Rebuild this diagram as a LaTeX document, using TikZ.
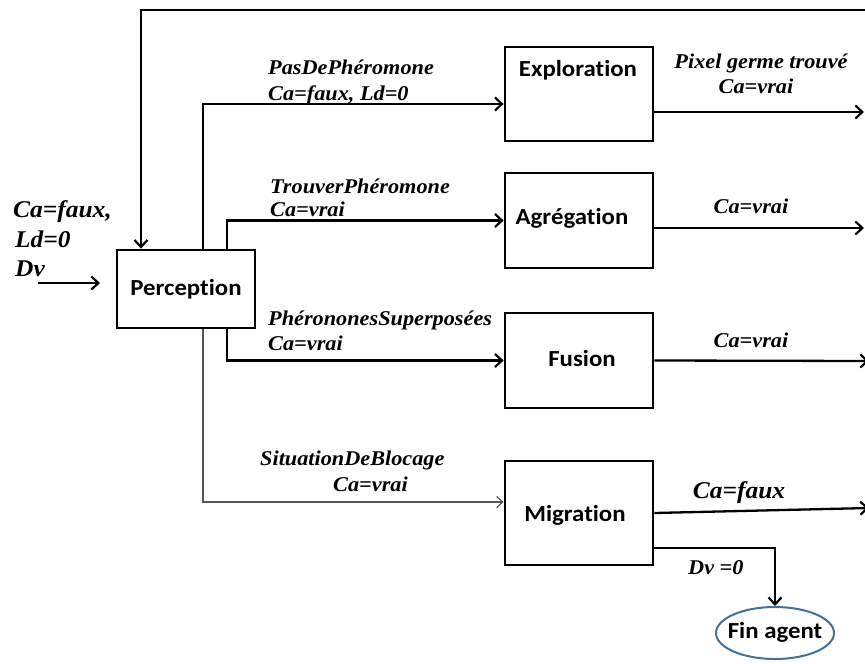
\documentclass[tikz,border=0pt]{standalone}
\usepackage{fontspec}
\usetikzlibrary{arrows.meta,shapes.geometric}
\newfontfamily\lblfont[FakeStretch=1.06]{Liberation Serif}
\newfontfamily\boxfont[FakeStretch=1.08,Ligatures={NoCommon}]{Carlito}
\definecolor{finblue}{HTML}{41719C}
\definecolor{thingrey}{HTML}{555555}
\tikzset{
  stage/.style={draw, line width=2.8pt, minimum width=148pt, inner sep=0pt},
  boxtxt/.style={font=\boxfont\bfseries\fontsize{23}{26}\selectfont, inner sep=0pt},
  lbl/.style={font=\lblfont\bfseries\itshape\fontsize{21}{24}\selectfont, inner sep=0pt, anchor=base west},
  lblbig/.style={font=\lblfont\bfseries\itshape\fontsize{24}{28}\selectfont, inner sep=0pt, anchor=base west},
  conn/.style={line width=2.3pt, -{Straight Barb[length=7pt,width=13pt,line width=2.2pt]}},
  thinconn/.style={line width=1.2pt, draw=thingrey, -{Straight Barb[length=6pt,width=11pt,line width=1.2pt]}}
}
\begin{document}
\begin{tikzpicture}[x=1pt,y=-1pt]
\useasboundingbox (0,0) rectangle (865,664);
% boxes
\node[stage, minimum width=138pt, minimum height=78pt] (perc) at (186,289) {};
\node[boxtxt] (perct) at (186,289) {Perception};
\node[stage, minimum height=94pt] (expl) at (579,94) {};
\node[boxtxt] (explt) at (578,70) {Exploration};
\node[stage, minimum height=95pt] (agr) at (579,220.5) {};
\node[boxtxt] (agrt) at (572,218) {Agrégation};
\node[stage, minimum height=95pt] (fus) at (579,360.5) {};
\node[boxtxt] (fust) at (582,359) {Fusion};
\node[stage, minimum height=104pt] (mig) at (579,513) {};
\node[boxtxt] (migt) at (575,515) {Migration};
\node[ellipse, draw=finblue, line width=2pt, minimum width=118pt, minimum height=52pt, inner sep=0pt] (fin) at (775,633) {};
\node[boxtxt] (fint) at (775,632) {Fin agent};

% free ends
\coordinate (topR) at (872,10);
\coordinate (inL) at (38,283);
\coordinate (inR) at (100,283);
\coordinate (bx1) at (203,0);
\coordinate (bx2) at (227,0);
\coordinate (o1) at (864,112);
\coordinate (o2) at (864,228);
\coordinate (o3) at (869,361);
\coordinate (o4) at (869,508);

% connectors
\draw[conn] (topR) -| ([xshift=-45pt]perc.north);
\draw[conn] (inL) -- (inR);
\draw[conn] (perc.north -| bx1) |- ([yshift=-10pt]expl.west);
\draw[conn] (perc.north -| bx2) |- (agr.west);
\draw[conn] (perc.south -| bx2) |- (fus.west);
\draw[thinconn] (perc.south -| bx1) |- ([yshift=11pt]mig.west);
\draw[conn] ([yshift=-18pt]expl.east) -- (o1);
\draw[conn] ([yshift=-7.5pt]agr.east) -- (o2);
\draw[conn] (fus.east) -- (o3);
\draw[conn] (mig.east) -- (o4);
\draw[conn] ([yshift=-35pt]mig.east) -| (fin.north);

% labels
\node[lblbig] (l1) at (13,217) {Ca=faux,};
\node[lblbig] (l2) at (15,247) {Ld=0};
\node[lblbig] (l3) at (15,276) {Dv};
\node[lbl] (a1) at (268,74) {PasDePhéromone};
\node[lbl] (a2) at (268,100) {Ca=faux, Ld=0};
\node[lbl] (b1) at (270,193) {TrouverPhéromone};
\node[lbl] (b2) at (270,216) {Ca=vrai};
\node[lbl] (c1) at (268,325) {PhérononesSuperposées};
\node[lbl] (c2) at (268,350) {Ca=vrai};
\node[lbl] (d1) at (260,465) {SituationDeBlocage};
\node[lbl] (d2) at (333,491) {Ca=vrai};
\node[lbl, anchor=base] (e1) at (761,68) {Pixel germe trouvé};
\node[lbl, anchor=base] (e2) at (756,93) {Ca=vrai};
\node[lbl, anchor=base] (f1) at (751,213) {Ca=vrai};
\node[lbl, anchor=base] (g1) at (751,347) {Ca=vrai};
\node[lblbig, anchor=base] (h1) at (739,498) {Ca=faux};
\node[lbl] (i1) at (688,574) {Dv =0};
\end{tikzpicture}
\end{document}
